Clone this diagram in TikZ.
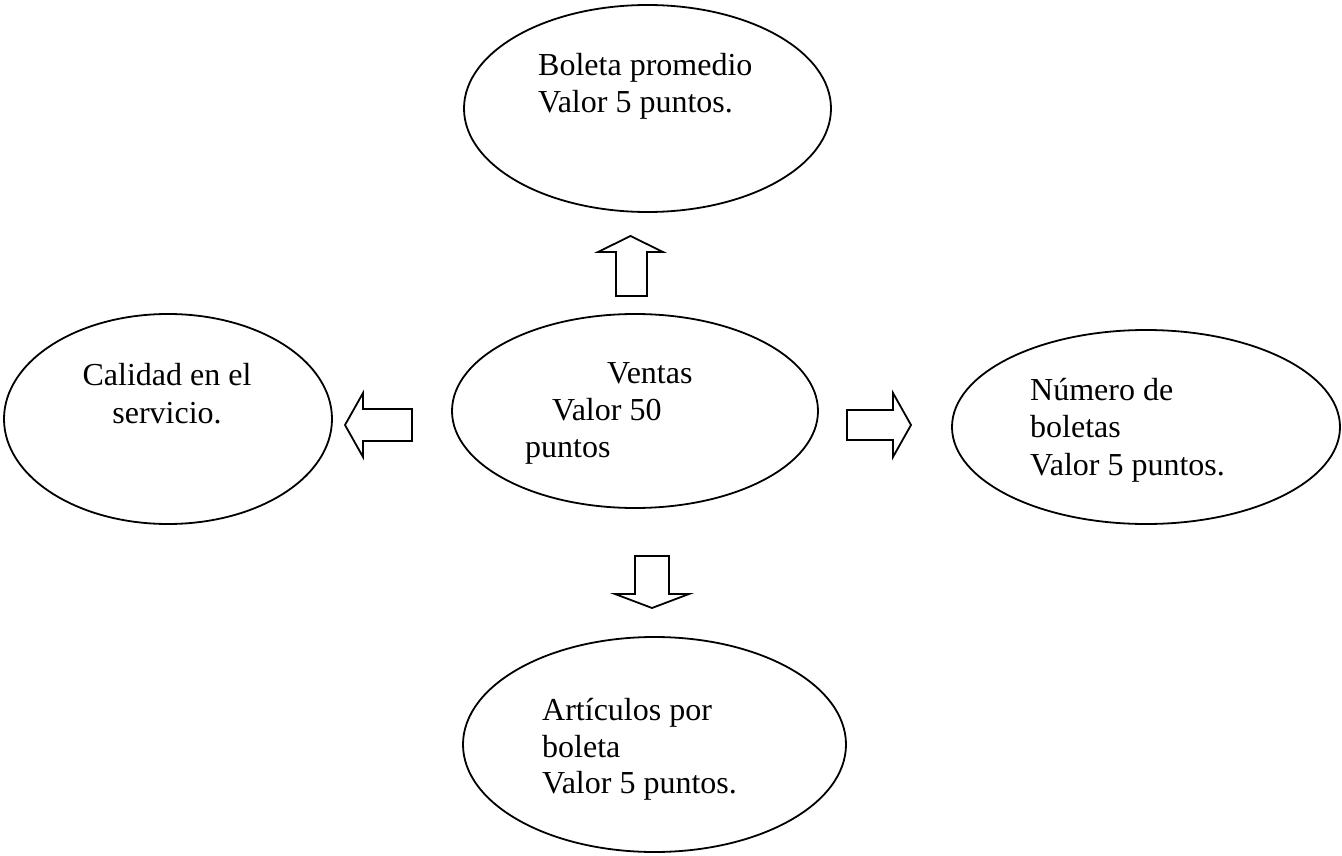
\documentclass[tikz,border=0pt]{standalone}
\usepackage{fontspec}
\setmainfont{Liberation Serif}
\usetikzlibrary{shapes, positioning, calc}

\begin{document}
\begin{tikzpicture}[
    x=1pt, y=-1pt,
    oval/.style={draw, ellipse, line width=1.8pt, inner sep=0pt},
    line/.style={inner sep=0pt, anchor=base west, font=\fontsize{32}{37}\selectfont},
    block/.style={draw, line width=1.8pt, line join=miter}]

  \useasboundingbox (0, 0) rectangle (1342, 856);

  % ellipses
  \node[oval, minimum width=367pt, minimum height=207pt] (boleta) at (647.5, 108.5) {};
  \node[oval, minimum width=366pt, minimum height=194pt] (ventas) at (635, 411) {};
  \node[oval, minimum width=328pt, minimum height=210pt] (calidad) at (168, 419) {};
  \node[oval, minimum width=388pt, minimum height=194pt] (numero) at (1146, 427) {};
  \node[oval, minimum width=383pt, minimum height=215pt] (articulos) at (654.5, 744.5) {};

  % texts
  \node[line] (boleta-1) at (538, 76) {Boleta promedio};
  \node[line] (boleta-2) at ($(boleta-1.base west)+(0, 37)$) {Valor 5 puntos.};

  \node[line] (ventas-1) at (607, 383) {Ventas};
  \node[line] (ventas-2) at (552, 420) {Valor 50};
  \node[line] (ventas-3) at (525, 457) {puntos};

  \node[line, anchor=base] (calidad-1) at (167, 385) {Calidad en el};
  \node[line, anchor=base] (calidad-2) at ($(calidad-1.base)+(0, 38)$) {servicio.};

  \node[line] (numero-1) at (1030, 400) {Número de};
  \node[line] (numero-2) at ($(numero-1.base west)+(0, 37)$) {boletas};
  \node[line] (numero-3) at ($(numero-2.base west)+(0, 38)$) {Valor 5 puntos.};

  \node[line] (articulos-1) at (542, 720) {Artículos por};
  \node[line] (articulos-2) at ($(articulos-1.base west)+(0, 37)$) {boleta};
  \node[line] (articulos-3) at ($(articulos-2.base west)+(0, 36)$) {Valor 5 puntos.};

  % block arrows
  \draw[block] (616, 296) -- (616, 252) -- (598, 252) -- (630.5, 236)
    -- (663, 252) -- (647, 252) -- (647, 296) -- cycle;
  \draw[block] (635, 556) -- (635, 594) -- (615, 594) -- (652, 608)
    -- (689, 594) -- (669, 594) -- (669, 556) -- cycle;
  \draw[block] (412, 409) -- (363, 409) -- (363, 393) -- (345, 425)
    -- (363, 457) -- (363, 441) -- (412, 441) -- cycle;
  \draw[block] (847, 410) -- (893, 410) -- (893, 393) -- (911, 425)
    -- (893, 457) -- (893, 440) -- (847, 440) -- cycle;
\end{tikzpicture}
\end{document}
